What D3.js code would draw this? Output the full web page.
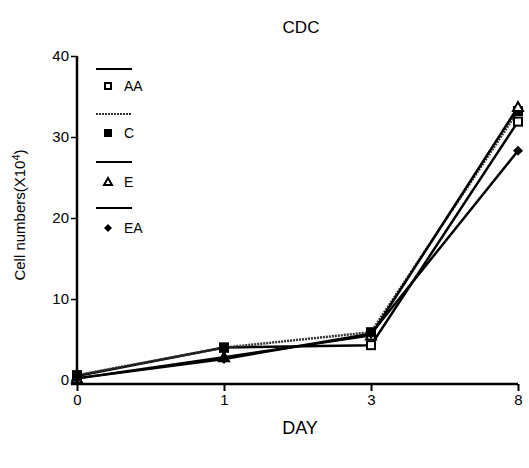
<!DOCTYPE html>
<html><head><meta charset="utf-8">
<script src="https://cdn.jsdelivr.net/npm/d3@7"></script>
<style>body{margin:0;background:#fff;} svg{display:block;font-family:"Liberation Sans",Arial,sans-serif;}</style>
</head><body>
<svg id="c" width="529" height="468"></svg>
<script>
const days = ["0","1","3","8"];
const seriesNames = ["AA","C","E","EA"];
const valAA = [0.5, 4.0, 4.3, 31.9];
const valC  = [0.6, 4.0, 5.9, 33.2];
const valE  = [0.2, 2.8, 5.5, 33.7];
const valEA = [0.2, 2.6, 5.7, 28.3];
const yTicks = [0,10,20,30,40];

const series = [
  {name:"AA", values:valAA, sym:"square", fill:"#fff", dash:null, color:"#000"},
  {name:"C",  values:valC,  sym:"square", fill:"#000", dash:"2,1", color:"#333"},
  {name:"E",  values:valE,  sym:"triangle", fill:"#fff", dash:null, color:"#000"},
  {name:"EA", values:valEA, sym:"diamond", fill:"#000", dash:null, color:"#000"}
];

const svg = d3.select("#c");
const x = d3.scalePoint().domain(days).range([77,518]);
const y = d3.scaleLinear().domain([0,40]).range([380,56]);

// axes
const yAxis = svg.append("g").attr("transform","translate(77,0)")
  .call(d3.axisLeft(y).tickValues(yTicks).tickSize(6).tickPadding(2));
yAxis.select(".domain").attr("stroke","#000").attr("stroke-width",2.5).attr("d","M0,56V384");
yAxis.selectAll(".tick line").attr("stroke-width",1.5);
yAxis.selectAll("text").attr("font-size",15).attr("fill","#000");

const xAxis = svg.append("g").attr("transform","translate(0,384)")
  .call(d3.axisBottom(x).tickSize(7).tickPadding(3));
xAxis.select(".domain").attr("stroke","#000").attr("stroke-width",2.5).attr("d","M71,0H518");
xAxis.selectAll(".tick line").attr("stroke-width",2);
xAxis.selectAll("text").attr("font-size",15).attr("fill","#000");

// symbols
function drawSym(g, s, cx, cy, r){
  if(s.sym==="square"){
    g.append("rect").attr("x",cx-r).attr("y",cy-r).attr("width",2*r).attr("height",2*r)
      .attr("fill",s.fill).attr("stroke","#000").attr("stroke-width",2);
  } else if(s.sym==="triangle"){
    g.append("path").attr("d",`M${cx},${cy-r-1}L${cx+r+1},${cy+r}L${cx-r-1},${cy+r}Z`)
      .attr("fill",s.fill).attr("stroke","#000").attr("stroke-width",2);
  } else {
    g.append("path").attr("d",`M${cx},${cy-r-1}L${cx+r+1},${cy}L${cx},${cy+r+1}L${cx-r-1},${cy}Z`)
      .attr("fill","#000");
  }
}

const line = d3.line().x((d,i)=>x(days[i])).y(d=>y(d));
series.forEach(s=>{
  svg.append("path").datum(s.values).attr("d",line)
    .attr("fill","none").attr("stroke",s.color).attr("stroke-width",2.5)
    .attr("stroke-dasharray",s.dash);
});
series.forEach(s=>{
  const g = svg.append("g");
  s.values.forEach((v,i)=>drawSym(g,s,x(days[i]),y(v),4));
});

// legend
const legLineY = [69,114,162,208];
const legSymY = [86,133,182,228];
series.forEach((s,i)=>{
  svg.append("line").attr("x1",96).attr("x2",132).attr("y1",legLineY[i]).attr("y2",legLineY[i])
    .attr("stroke",s.color).attr("stroke-width",2).attr("stroke-dasharray",s.dash);
  drawSym(svg.append("g"),s,108,legSymY[i],3);
  svg.append("text").attr("x",124).attr("y",legSymY[i]+5).attr("font-size",14).text(s.name);
});

// titles
svg.append("text").attr("x",301).attr("y",33).attr("text-anchor","middle").attr("font-size",17).text("CDC");
svg.append("text").attr("x",300).attr("y",434).attr("text-anchor","middle").attr("font-size",18).text("DAY");
const yl = svg.append("text").attr("transform","translate(25,215) rotate(-90)").attr("text-anchor","middle").attr("font-size",15);
yl.append("tspan").text("Cell numbers(X10");
yl.append("tspan").attr("dy",-5).attr("font-size",11).text("4");
yl.append("tspan").attr("dy",5).text(")");
</script>
</body></html>
